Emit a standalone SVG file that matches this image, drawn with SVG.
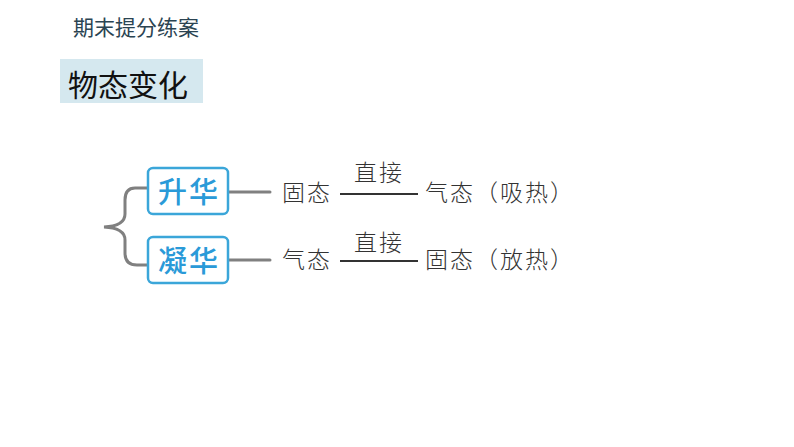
<svg xmlns="http://www.w3.org/2000/svg" width="794" height="447" viewBox="0 0 794 447">
<style>
.hdr{font-family:"Noto Sans CJK SC","Liberation Sans",sans-serif;font-size:21px;fill:#2b4452}
.ttl{font-family:"Noto Sans CJK SC","Liberation Sans",sans-serif;font-size:30px;fill:#111}
.box{fill:#fff;stroke:#3ba6d9;stroke-width:2.5}
.bt{font-family:"Noto Sans CJK SC","Liberation Sans",sans-serif;font-size:29px;font-weight:500;fill:#2a9ad8;text-anchor:middle;letter-spacing:2px}
.t{font-family:"Noto Sans CJK SC","Liberation Sans",sans-serif;font-size:23px;font-weight:300;fill:#333;letter-spacing:2px}
.tm{font-family:"Noto Sans CJK SC","Liberation Sans",sans-serif;font-size:23px;font-weight:300;fill:#333;text-anchor:middle;letter-spacing:2px}
.gc{fill:none;stroke:#808080;stroke-width:3;stroke-linecap:round}
.ln{stroke:#333;stroke-width:1.8}
</style>
<rect width="794" height="447" fill="#fff"/>
<text class="hdr" x="73" y="35">期末提分练案</text>
<g id="title">
<rect x="60" y="59" width="143" height="44" fill="#d5e8ef"/>
<text class="ttl" x="68" y="96">物态变化</text>
</g>
<g id="connectors">
<path class="gc" d="M147,188 L135,188 Q125,188 125,200 L125,214 Q125,226 104,227 Q125,228 125,240 L125,253 Q125,265 137,265 L148,265"/>
<path class="gc" d="M229,192 L270,192"/>
<path class="gc" d="M229,260 L270,260"/>
</g>
<g id="sublimation">
<rect class="box" x="148" y="168" width="80" height="46" rx="5"/>
<text class="bt" x="189" y="203">升华</text>
</g>
<g id="deposition">
<rect class="box" x="148" y="237" width="80" height="46" rx="5"/>
<text class="bt" x="189" y="272">凝华</text>
</g>
<g id="row1">
<text class="t" x="282" y="201">固态</text>
<line class="ln" x1="340" y1="194" x2="418" y2="194"/>
<text class="tm" x="379" y="181">直接</text>
<text class="t" x="425" y="201">气态（吸热）</text>
</g>
<g id="row2">
<text class="t" x="282" y="268">气态</text>
<line class="ln" x1="340" y1="261" x2="418" y2="261"/>
<text class="tm" x="379" y="251">直接</text>
<text class="t" x="425" y="268">固态（放热）</text>
</g>
</svg>
